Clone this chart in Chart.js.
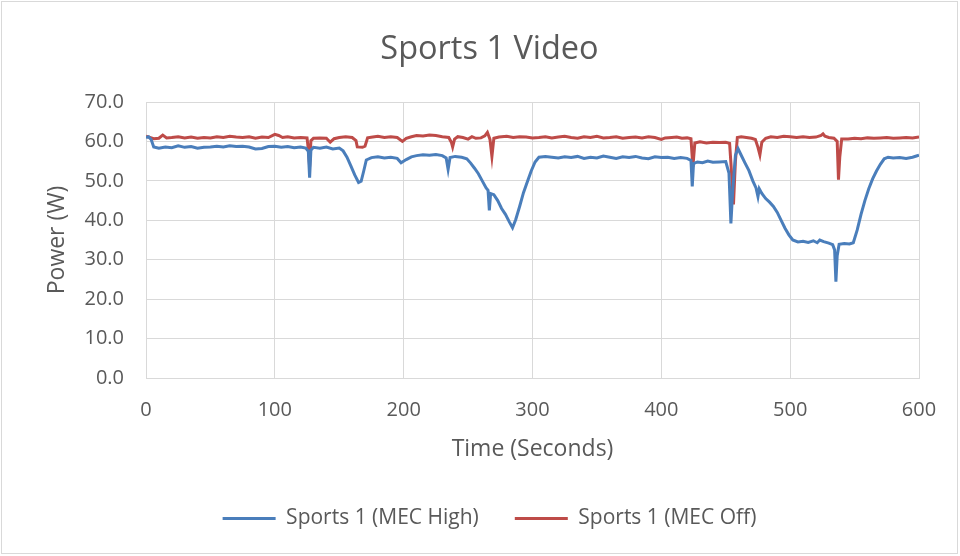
<!DOCTYPE html>
<html>
<head>
<meta charset="utf-8">
<script src="https://cdn.jsdelivr.net/npm/chart.js"></script>
<style>
  html, body { margin: 0; padding: 0; background: #fff; }
  #wrap { position: relative; width: 960px; height: 556px; }
  #frame { position: absolute; left: 1px; top: 1px; width: 955px; height: 551px; border: 1px solid #d9d9d9; pointer-events: none; }
</style>
</head>
<body>
<div id="wrap">
  <canvas id="chart" width="960" height="556"></canvas>
  <div id="frame"></div>
</div>
<script>
// Sports 1 Video - power draw over time
const yTicks = ["0.0", "10.0", "20.0", "30.0", "40.0", "50.0", "60.0", "70.0"];
const xTicks = [0, 100, 200, 300, 400, 500, 600];

const highTime = [0, 2, 4, 6, 10, 15, 20, 25, 30, 35, 40, 45, 50, 55, 60, 65, 70, 75, 80, 85, 90, 95, 100, 105, 110, 115, 120, 124, 126, 127, 128, 130, 135, 140, 145, 150, 153, 156, 159, 162, 165, 167, 169, 171, 175, 180, 185, 190, 195, 198, 202, 206, 210, 215, 220, 225, 230, 233, 234.5, 236, 240, 245, 249, 252, 255, 258, 261, 264, 265.5, 266.5, 267.5, 270, 273, 276, 279, 282, 284.5, 287, 290, 293, 296, 299, 302, 305, 310, 315, 320, 325, 330, 335, 340, 345, 350, 355, 360, 365, 370, 375, 380, 385, 390, 395, 400, 405, 410, 415, 420, 423, 424, 425, 428, 432, 436, 440, 445, 450, 452.5, 454, 455.5, 457.5, 459.5, 462, 465, 468, 471, 473.5, 475, 476, 478, 481, 484, 487, 490, 493, 496, 499, 502, 506, 510, 514, 518, 521, 523, 526, 530, 533, 534.5, 535.5, 536.5, 538, 542, 546, 549, 552, 555, 558, 561, 564, 567, 570, 573, 576, 580, 585, 590, 595, 598, 600];
const highPower = [61.0, 61.2, 60.5, 58.6, 58.3, 58.6, 58.4, 58.9, 58.5, 58.7, 58.3, 58.5, 58.6, 58.8, 58.6, 58.9, 58.7, 58.8, 58.6, 58.1, 58.2, 58.7, 58.8, 58.5, 58.7, 58.4, 58.6, 58.3, 57.5, 50.8, 57.8, 58.5, 58.3, 58.6, 58.1, 58.3, 57.6, 56.0, 53.8, 51.5, 49.6, 49.9, 52.5, 55.3, 55.9, 56.1, 55.8, 56.0, 55.7, 54.6, 55.4, 56.1, 56.4, 56.6, 56.5, 56.7, 56.4, 55.8, 52.9, 55.9, 56.2, 56.0, 55.6, 54.5, 53.2, 51.8, 50.0, 48.2, 47.6, 42.5, 46.8, 46.5, 45.0, 43.0, 41.5, 39.6, 38.1, 40.2, 43.5, 47.0, 49.8, 52.5, 54.8, 56.0, 56.2, 56.0, 55.8, 56.1, 55.9, 56.2, 55.7, 56.0, 55.8, 56.3, 56.0, 55.7, 56.1, 55.9, 56.2, 55.8, 55.6, 56.1, 55.9, 56.0, 55.7, 55.9, 55.7, 55.2, 48.6, 54.4, 54.8, 54.6, 55.0, 54.7, 54.8, 54.9, 52.0, 39.2, 48.0, 56.5, 58.2, 56.5, 54.5, 52.6, 50.0, 48.2, 46.0, 48.0, 46.8, 45.5, 44.6, 43.5, 42.0, 40.0, 38.0, 36.3, 35.0, 34.5, 34.7, 34.4, 34.8, 34.3, 35.0, 34.6, 34.2, 33.8, 32.5, 24.4, 31.0, 33.9, 34.1, 34.0, 34.3, 37.5, 41.5, 45.0, 48.0, 50.5, 52.5, 54.2, 55.6, 56.0, 55.8, 55.9, 55.7, 56.0, 56.3, 56.5];

const offTime = [0, 3, 6, 10, 13, 16, 20, 25, 30, 35, 40, 45, 50, 55, 60, 65, 70, 75, 80, 85, 90, 95, 100, 103, 106, 110, 115, 120, 125, 126, 127, 128, 130, 135, 140, 143, 146, 150, 155, 160, 163, 164, 168, 170, 172, 176, 180, 185, 190, 195, 199, 202, 206, 210, 215, 220, 225, 230, 235, 237, 238, 239.5, 242, 246, 250, 253, 256, 260, 263, 265, 267, 268.5, 270, 274, 280, 285, 290, 295, 300, 305, 310, 315, 320, 325, 330, 335, 340, 345, 350, 355, 360, 365, 370, 375, 380, 385, 390, 395, 400, 403, 408, 412, 416, 420, 423, 424.5, 426, 430, 435, 440, 445, 450, 453, 454.5, 456, 457.5, 459, 462, 466, 470, 473, 475, 476.5, 478, 481, 485, 490, 495, 500, 505, 510, 515, 520, 524, 525.5, 527, 530, 534, 536.5, 537.5, 538.5, 540, 545, 550, 555, 560, 565, 570, 575, 580, 585, 590, 595, 600];
const offPower = [61.3, 61.0, 60.7, 60.8, 61.6, 60.9, 61.0, 61.2, 60.9, 61.1, 60.8, 61.0, 60.9, 61.2, 61.0, 61.3, 61.1, 61.0, 61.2, 60.8, 61.1, 61.0, 61.8, 61.5, 61.0, 61.2, 60.9, 61.0, 60.9, 58.0, 53.6, 60.2, 60.8, 60.9, 60.8, 59.8, 60.7, 61.0, 61.2, 61.0, 60.2, 58.6, 58.5, 58.8, 60.9, 61.1, 61.3, 61.0, 61.2, 61.0, 60.0, 60.8, 61.2, 61.5, 61.4, 61.6, 61.5, 61.2, 61.0, 59.8, 58.6, 60.6, 61.2, 61.0, 60.6, 61.2, 60.8, 60.9, 61.4, 62.3, 60.5, 56.2, 60.8, 61.1, 61.3, 61.0, 61.2, 61.1, 60.9, 61.0, 61.2, 60.9, 61.1, 61.3, 61.0, 60.8, 61.2, 61.0, 61.3, 60.9, 61.0, 61.2, 60.8, 61.0, 61.1, 60.9, 61.2, 61.0, 60.5, 60.9, 61.0, 61.1, 60.8, 60.9, 60.7, 53.6, 59.6, 59.9, 59.6, 59.8, 59.7, 59.8, 59.5, 52.0, 44.0, 55.0, 61.0, 61.2, 61.0, 60.8, 60.5, 58.5, 56.6, 59.8, 60.8, 61.2, 61.0, 61.3, 61.2, 61.0, 61.2, 61.0, 61.1, 61.5, 61.9, 61.3, 61.0, 60.8, 60.0, 50.3, 56.0, 60.6, 60.6, 60.8, 60.7, 60.9, 60.8, 60.9, 61.0, 60.8, 60.9, 61.0, 60.9, 61.1];

const toPoints = (xs, ys) => xs.map((x, i) => ({ x, y: ys[i] }));

const FONT = "'Open Sans', sans-serif";
const TEXT = "#595959";
const GRID = "#d9d9d9";

new Chart(document.getElementById("chart"), {
  type: "line",
  data: {
    datasets: [{
      label: "Sports 1 (MEC High)",
      data: toPoints(highTime, highPower),
      borderColor: "#4a7ebb",
      backgroundColor: "#4a7ebb",
      borderWidth: 3,
      pointRadius: 0,
      tension: 0
    }, {
      label: "Sports 1 (MEC Off)",
      data: toPoints(offTime, offPower),
      borderColor: "#be4b48",
      backgroundColor: "#be4b48",
      borderWidth: 3,
      pointRadius: 0,
      tension: 0
    }]
  },
  options: {
    responsive: false,
    animation: false,
    devicePixelRatio: 1,
    layout: { padding: { left: 60, right: 41, top: 0, bottom: 17 } },
    plugins: {
      title: {
        display: true,
        text: "Sports 1 Video",
        color: TEXT,
        font: { family: FONT, size: 32.5, weight: "normal" },
        padding: { top: 30, bottom: 33 }
      },
      legend: {
        position: "bottom",
        labels: {
          color: TEXT,
          font: { family: FONT, size: 21 },
          usePointStyle: true,
          pointStyle: "line",
          pointStyleWidth: 53,
          boxHeight: 21,
          padding: 36
        }
      },
      tooltip: { enabled: false }
    },
    scales: {
      x: {
        type: "linear",
        min: 0,
        max: 600,
        afterBuildTicks: s => { s.ticks = xTicks.map(v => ({ value: v })); },
        afterFit: s => { s.height = 94; },
        grid: { color: GRID, drawTicks: false },
        border: { color: GRID },
        ticks: { color: TEXT, font: { family: FONT, size: 20 }, padding: 20, maxRotation: 0 },
        title: {
          display: true,
          text: "Time (Seconds)",
          color: TEXT,
          font: { family: FONT, size: 23 },
          padding: { top: 0, bottom: 9 }
        }
      },
      y: {
        min: 0,
        max: 70,
        afterBuildTicks: s => { s.ticks = yTicks.map(v => ({ value: parseFloat(v) })); },
        afterFit: s => { s.width = 86; },
        grid: { color: GRID, drawTicks: false },
        border: { color: GRID },
        ticks: {
          color: TEXT,
          font: { family: FONT, size: 20 },
          padding: 22,
          callback: (v, i) => yTicks[i]
        },
        title: {
          display: true,
          text: "Power (W)",
          color: TEXT,
          font: { family: FONT, size: 23 },
          padding: { top: -16, bottom: 0 }
        }
      }
    }
  }
});
</script>
</body>
</html>
